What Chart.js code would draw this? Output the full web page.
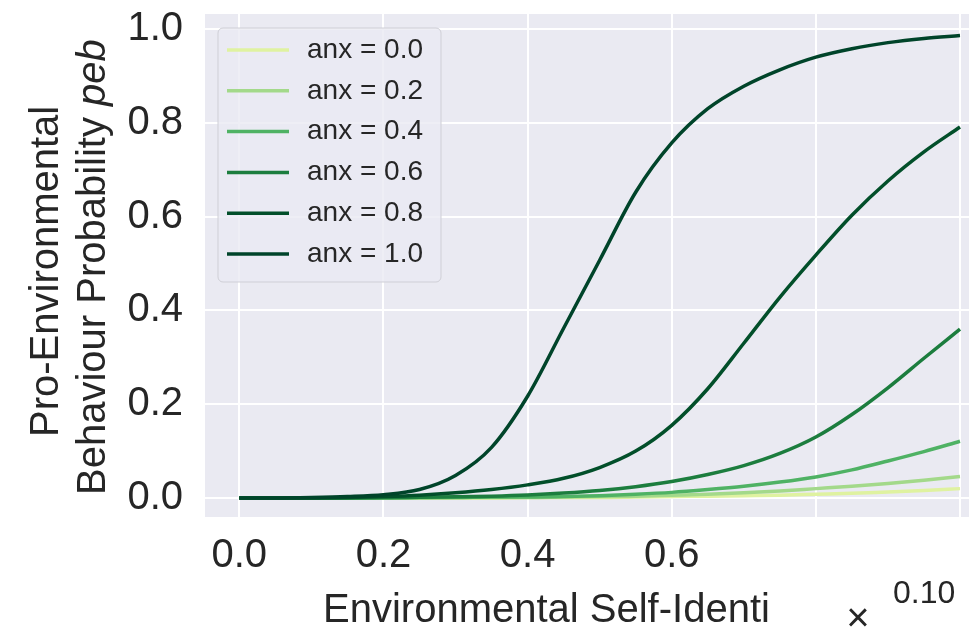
<!DOCTYPE html>
<html>
<head>
<meta charset="utf-8">
<script src="https://cdn.jsdelivr.net/npm/chart.js@4.4.0/dist/chart.umd.min.js"></script>
<style>
html, body { margin: 0; padding: 0; background: #fff; overflow: hidden; }
</style>
</head>
<body>
<canvas id="pebChart" width="969" height="627"></canvas>
<script>
// environmental self-identity (x) and peb per anxiety level
var xs = [0, 0.05, 0.1, 0.15, 0.2, 0.25, 0.3, 0.35, 0.4, 0.45, 0.5, 0.55, 0.6, 0.65, 0.7, 0.75, 0.8, 0.85, 0.9, 0.95, 1.0];
var anx00 = [0, 0, 0, 0, 0, 0, 0, 0, 0.001, 0.001, 0.001, 0.002, 0.003, 0.004, 0.005, 0.006, 0.008, 0.01, 0.013, 0.016, 0.02];
var anx02 = [0, 0, 0, 0, 0, 0, 0.001, 0.001, 0.001, 0.002, 0.003, 0.004, 0.006, 0.008, 0.011, 0.015, 0.02, 0.025, 0.031, 0.038, 0.046];
var anx04 = [0, 0, 0, 0, 0, 0.001, 0.001, 0.002, 0.002, 0.003, 0.005, 0.008, 0.012, 0.018, 0.025, 0.034, 0.045, 0.06, 0.079, 0.099, 0.121];
var anx06 = [0, 0, 0, 0, 0.001, 0.0015, 0.0025, 0.004, 0.0065, 0.0105, 0.016, 0.024, 0.035, 0.05, 0.069, 0.095, 0.13, 0.178, 0.235, 0.298, 0.36];
var anx08 = [0, 0, 0, 0.001, 0.003, 0.006, 0.011, 0.018, 0.028, 0.042, 0.065, 0.1, 0.155, 0.233, 0.33, 0.428, 0.518, 0.603, 0.676, 0.738, 0.791];
var anx10 = [0, 0, 0.001, 0.003, 0.007, 0.018, 0.048, 0.108, 0.217, 0.362, 0.507, 0.652, 0.757, 0.83, 0.878, 0.913, 0.94, 0.958, 0.971, 0.98, 0.986];

var anxLabels = ['anx = 0.0', 'anx = 0.2', 'anx = 0.4', 'anx = 0.6', 'anx = 0.8', 'anx = 1.0'];
var anxColors = ['#dff2a0', '#a3d98a', '#4fb264', '#1c7d3e', '#024f2a', '#00442a'];
var anxSeries = [anx00, anx02, anx04, anx06, anx08, anx10];

// tick labels (0.8 and 1.0 are missing under the x axis in the original)
var xTickLabels = ['0.0', '0.2', '0.4', '0.6'];
var yTickLabels = ['0.0', '0.2', '0.4', '0.6', '0.8', '1.0'];

var FONT = "'Liberation Sans', Arial, sans-serif";
var TEXT = '#262626';

function points(ys) {
    return xs.map(function(x, i) { return { x: x, y: ys[i] }; });
}

var datasets = anxSeries.map(function(ys, i) {
    return {
        label: anxLabels[i],
        data: points(ys),
        borderColor: anxColors[i],
        backgroundColor: anxColors[i],
        borderWidth: 3.5,
        pointRadius: 0,
        cubicInterpolationMode: 'monotone',
        order: anxSeries.length - 1 - i   // later series on top, like matplotlib
    };
});

// seaborn darkgrid background
var darkGrid = {
    id: 'darkGrid',
    beforeDraw: function(chart) {
        var a = chart.chartArea, c = chart.ctx;
        c.save();
        c.fillStyle = '#eaeaf2';
        c.fillRect(a.left, a.top, a.right - a.left, a.bottom - a.top);
        c.restore();
    }
};

// legend box in the upper left of the plot + axis texts
var extras = {
    id: 'extras',
    afterDraw: function(chart) {
        var c = chart.ctx, a = chart.chartArea;
        c.save();

        var bx = a.left + 13, by = a.top + 14;
        c.beginPath();
        c.roundRect(bx, by, 223, 254, 5);
        c.fillStyle = 'rgba(234,234,242,0.8)';
        c.fill();
        c.strokeStyle = '#cfcfd6';
        c.lineWidth = 1;
        c.stroke();

        c.font = '28px ' + FONT;
        c.textBaseline = 'middle';
        c.textAlign = 'left';
        chart.data.datasets.forEach(function(ds, i) {
            var ry = by + 22 + i * 40.8;
            c.strokeStyle = ds.borderColor;
            c.lineWidth = 3.5;
            c.beginPath();
            c.moveTo(bx + 9, ry);
            c.lineTo(bx + 71, ry);
            c.stroke();
            c.fillStyle = TEXT;
            c.fillText(ds.label, bx + 89, ry);
        });

        // x axis title (cut off in the original) and the offset text
        c.fillStyle = TEXT;
        c.textBaseline = 'alphabetic';
        c.font = '40px ' + FONT;
        c.fillText('Environmental Self-Identi', 323, 622);
        c.textAlign = 'center';
        c.fillText('\u00d7', 858, 631);
        c.textAlign = 'left';
        c.font = '32px ' + FONT;
        c.fillText('0.10', 893, 603);

        // y axis title, two lines, rotated
        c.font = '40px ' + FONT;
        c.save();
        c.translate(58, 437);
        c.rotate(-Math.PI / 2);
        c.fillText('Pro-Environmental', 0, 0);
        c.restore();
        c.save();
        c.translate(105, 495);
        c.rotate(-Math.PI / 2);
        var part = 'Behaviour Probability ';
        c.fillText(part, 0, 0);
        var w = c.measureText(part).width;
        c.font = 'italic 40px ' + FONT;
        c.fillText('peb', w, 0);
        c.restore();

        c.restore();
    }
};

var ctx = document.getElementById('pebChart').getContext('2d');
var pebChart = new Chart(ctx, {
    type: 'line',
    data: { datasets: datasets },
    options: {
        responsive: false,
        animation: false,
        layout: { padding: { top: 14, right: 0, bottom: 0, left: 0 } },
        plugins: {
            legend: { display: false },
            tooltip: { enabled: false }
        },
        scales: {
            x: {
                type: 'linear',
                min: -0.0476,
                max: 1.0125,
                border: { display: false },
                grid: { color: '#ffffff', lineWidth: 2, drawTicks: false },
                ticks: {
                    stepSize: 0.2,
                    includeBounds: false,
                    padding: 15,
                    color: TEXT,
                    font: { family: FONT, size: 40 },
                    maxRotation: 0,
                    autoSkip: false,
                    callback: function(value) {
                        return xTickLabels[Math.round(value / 0.2)] || '';
                    }
                },
                afterFit: function(scale) {
                    scale.height = 110;
                    scale.paddingLeft = 0;
                    scale.paddingRight = 0;
                }
            },
            y: {
                min: -0.0405,
                max: 1.032,
                border: { display: false },
                grid: { color: '#ffffff', lineWidth: 2, drawTicks: false },
                ticks: {
                    stepSize: 0.2,
                    includeBounds: false,
                    padding: 22,
                    color: TEXT,
                    font: { family: FONT, size: 40 },
                    callback: function(value) {
                        return yTickLabels[Math.round(value / 0.2)];
                    }
                },
                afterFit: function(scale) {
                    scale.width = 205;
                    scale.paddingTop = 0;
                    scale.paddingBottom = 0;
                }
            }
        }
    },
    plugins: [darkGrid, extras]
});
</script>
</body>
</html>
